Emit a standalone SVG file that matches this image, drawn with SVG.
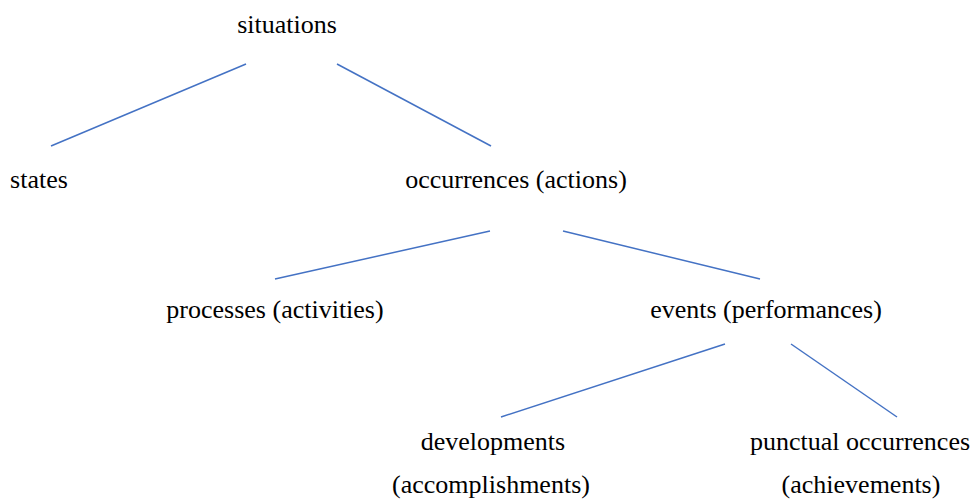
<svg xmlns="http://www.w3.org/2000/svg" width="976" height="500" viewBox="0 0 976 500">
<style>
.t { font-size: 26px; fill: #000; text-anchor: middle; }
.c { stroke: #4472C4; stroke-width: 1.5; }
</style>
<rect width="976" height="500" fill="#fff"/>
<g id="connectors">
<line class="c" x1="246" y1="64" x2="51" y2="146"/>
<line class="c" x1="337" y1="64" x2="491" y2="146"/>
<line class="c" x1="490" y1="231" x2="275" y2="279"/>
<line class="c" x1="563" y1="231" x2="760" y2="279"/>
<line class="c" x1="725" y1="344" x2="501" y2="417"/>
<line class="c" x1="791" y1="344" x2="897" y2="417"/>
</g>
<g font-family="Liberation Serif, serif">
<g id="situations"><text class="t" x="287" y="33">situations</text></g>
<g id="states"><text class="t" x="39" y="188">states</text></g>
<g id="occurrences"><text class="t" x="516" y="188">occurrences (actions)</text></g>
<g id="processes"><text class="t" x="275" y="318">processes (activities)</text></g>
<g id="events"><text class="t" x="766" y="318">events (performances)</text></g>
<g id="developments"><text class="t" x="493" y="450">developments</text><text class="t" x="491" y="493">(accomplishments)</text></g>
<g id="punctual"><text class="t" x="860" y="450">punctual occurrences</text><text class="t" x="861" y="493">(achievements)</text></g>
</g>
</svg>
